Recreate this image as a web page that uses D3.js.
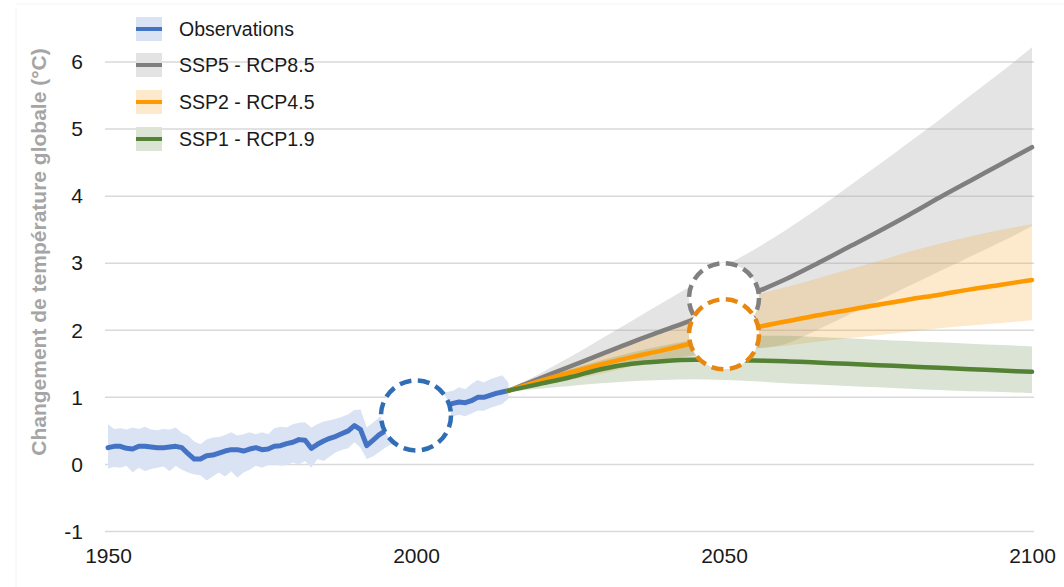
<!DOCTYPE html>
<html>
<head>
<meta charset="utf-8">
<script src="https://cdn.jsdelivr.net/npm/d3@7/dist/d3.min.js"></script>
<style>
  html, body { margin: 0; padding: 0; background: #ffffff; }
  svg { display: block; }
</style>
</head>
<body>
<svg id="chart" width="1064" height="587"></svg>
<script>
// ---- Observed global temperature change (°C), 1950–2015 ----
const obsYears = d3.range(1950, 2016);
const obsMean = [
  0.25, 0.27, 0.27, 0.24, 0.23, 0.27, 0.27, 0.26, 0.25, 0.25,
  0.26, 0.27, 0.25, 0.16, 0.08, 0.08, 0.13, 0.14, 0.17, 0.20,
  0.22, 0.22, 0.20, 0.23, 0.25, 0.22, 0.23, 0.27, 0.28, 0.31,
  0.33, 0.37, 0.36, 0.24, 0.30, 0.35, 0.39, 0.42, 0.46, 0.50,
  0.58, 0.52, 0.28, 0.36, 0.44, 0.50, 0.55, 0.60, 0.72, 0.62,
  0.64, 0.74, 0.80, 0.82, 0.80, 0.88, 0.91, 0.93, 0.92, 0.95,
  1.00, 1.00, 1.03, 1.06, 1.08, 1.10
];
const obsUpper = [
  0.60, 0.53, 0.54, 0.52, 0.55, 0.53, 0.56, 0.52, 0.51, 0.53,
  0.52, 0.55, 0.47, 0.43, 0.34, 0.30, 0.37, 0.40, 0.41, 0.44,
  0.48, 0.43, 0.45, 0.48, 0.45, 0.48, 0.45, 0.54, 0.56, 0.55,
  0.60, 0.62, 0.63, 0.55, 0.60, 0.64, 0.66, 0.68, 0.71, 0.75,
  0.81, 0.82, 0.55, 0.62, 0.70, 0.75, 0.80, 0.85, 0.98, 0.88,
  0.90, 0.98, 1.03, 1.05, 1.02, 1.08, 1.10, 1.15, 1.12, 1.20,
  1.26, 1.22, 1.27, 1.30, 1.33, 1.22
];
const obsLower = [
  -0.06, -0.04, -0.05, -0.02, -0.12, -0.05, -0.10, -0.07, -0.05, -0.03,
  -0.10, -0.02, -0.08, -0.12, -0.15, -0.16, -0.24, -0.18, -0.12, -0.18,
  -0.10, -0.20, -0.12, -0.08, -0.02, -0.05, -0.01, 0.00, -0.02, -0.01,
  0.03, 0.00, 0.05, -0.05, 0.08, 0.05, 0.12, 0.18, 0.22, 0.24,
  0.33, 0.25, 0.08, 0.12, 0.18, 0.25, 0.30, 0.36, 0.48, 0.38,
  0.40, 0.50, 0.56, 0.60, 0.58, 0.66, 0.72, 0.74, 0.72, 0.76,
  0.80, 0.80, 0.84, 0.87, 0.90, 0.98
];

// ---- Scenario projections, 2015–2100 (5-year steps) ----
const projYears = d3.range(2015, 2101, 5);
const ssp5Mean  = [1.10, 1.28, 1.46, 1.64, 1.82, 1.99, 2.16, 2.36, 2.56, 2.76, 2.99, 3.23, 3.47, 3.72, 3.98, 4.23, 4.48, 4.73];
const ssp5Upper = [1.12, 1.35, 1.60, 1.87, 2.14, 2.41, 2.68, 2.95, 3.21, 3.49, 3.80, 4.13, 4.46, 4.80, 5.14, 5.50, 5.85, 6.22];
const ssp5Lower = [1.08, 1.18, 1.28, 1.38, 1.47, 1.55, 1.62, 1.67, 1.72, 1.80, 2.00, 2.22, 2.44, 2.66, 2.88, 3.10, 3.32, 3.55];

const ssp2Mean  = [1.10, 1.24, 1.37, 1.49, 1.60, 1.70, 1.81, 1.93, 2.04, 2.13, 2.22, 2.30, 2.38, 2.46, 2.53, 2.61, 2.68, 2.75];
const ssp2Upper = [1.10, 1.30, 1.50, 1.68, 1.86, 2.03, 2.20, 2.37, 2.52, 2.64, 2.77, 2.90, 3.03, 3.17, 3.29, 3.40, 3.50, 3.58];
const ssp2Lower = [1.08, 1.17, 1.26, 1.35, 1.46, 1.56, 1.63, 1.69, 1.73, 1.77, 1.83, 1.88, 1.93, 1.98, 2.03, 2.07, 2.11, 2.15];

const ssp1Mean  = [1.10, 1.20, 1.30, 1.42, 1.50, 1.54, 1.56, 1.56, 1.55, 1.54, 1.52, 1.50, 1.48, 1.46, 1.44, 1.42, 1.40, 1.38];
const ssp1Upper = [1.10, 1.27, 1.42, 1.55, 1.67, 1.77, 1.85, 1.90, 1.92, 1.92, 1.90, 1.88, 1.86, 1.84, 1.82, 1.80, 1.78, 1.76];
const ssp1Lower = [1.08, 1.13, 1.17, 1.21, 1.24, 1.26, 1.27, 1.26, 1.24, 1.21, 1.19, 1.17, 1.15, 1.13, 1.11, 1.09, 1.08, 1.06];

// ---- Axis ticks and labels ----
const xTicks = [1950, 2000, 2050, 2100];
const yTicks = [-1, 0, 1, 2, 3, 4, 5, 6];
const yTitle = "Changement de température globale (°C)";

const legendLabels = ["Observations", "SSP5 - RCP8.5", "SSP2 - RCP4.5", "SSP1 - RCP1.9"];

// Highlighted points (year, °C) marked by dashed rings
const markerYears  = [2000, 2050, 2050];
const markerValues = [0.73, 2.48, 1.94];

// ---- Styling ----
const colors = {
  obs:  { line: "#4472c4", band: "#dae3f3" },
  ssp5: { line: "#7f7f7f", band: "#a6a6a6", bandOpacity: 0.30, swatch: "#e3e3e3" },
  ssp2: { line: "#ff9900", band: "#f7a733", bandOpacity: 0.25, swatch: "#fde9cc" },
  ssp1: { line: "#548235", band: "#6f9452", bandOpacity: 0.25, swatch: "#dce4d5" }
};
const markerColors = ["#2f6db5", "#808080", "#e8870f"];
const FONT = "Liberation Sans, Arial, sans-serif";

const svg = d3.select("#chart");
const W = 1064, H = 587;

const x = d3.scaleLinear().domain([1950, 2100]).range([108, 1032]);
const y = d3.scaleLinear().domain([-1, 6]).range([531.5, 62]);

// faint outer frame
svg.append("line").attr("x1", 16).attr("x2", 16).attr("y1", 8).attr("y2", H)
  .attr("stroke", "#f2f2f2").attr("stroke-width", 1);
svg.append("line").attr("x1", 16).attr("x2", W).attr("y1", 4).attr("y2", 4)
  .attr("stroke", "#f4f4f4").attr("stroke-width", 1);

// Horizontal gridlines
svg.append("g")
  .selectAll("line")
  .data(yTicks)
  .join("line")
  .attr("x1", 105).attr("x2", 1034)
  .attr("y1", d => y(d)).attr("y2", d => y(d))
  .attr("stroke", "#d9d9d9").attr("stroke-width", 1.5);

// Y axis (labels only)
const yAxis = d3.axisLeft(y).tickValues(yTicks).tickSize(0).tickPadding(0).tickFormat(d => String(d));
const gy = svg.append("g").attr("transform", "translate(83,0)").call(yAxis);
gy.select(".domain").remove();
gy.selectAll("text")
  .attr("font-family", FONT)
  .attr("font-size", 21).attr("fill", "#1a1a1a");

// X axis (labels only)
const xAxis = d3.axisBottom(x).tickValues(xTicks).tickSize(0).tickPadding(0).tickFormat(d => String(d));
const gx = svg.append("g").attr("transform", "translate(0,548)").call(xAxis);
gx.select(".domain").remove();
gx.selectAll("text")
  .attr("font-family", FONT)
  .attr("font-size", 21).attr("fill", "#1a1a1a");

// Y axis title
svg.append("text")
  .attr("transform", "translate(46,252) rotate(-90)")
  .attr("text-anchor", "middle")
  .attr("font-family", FONT)
  .attr("font-weight", "bold")
  .attr("font-size", 21)
  .attr("fill", "#a5a5a5")
  .text(yTitle);

// ---- Observations ----
const obsData = obsYears.map((yr, i) => ({ yr, m: obsMean[i], hi: obsUpper[i], lo: obsLower[i] }));
svg.append("path")
  .datum(obsData)
  .attr("d", d3.area().x(d => x(d.yr)).y0(d => y(d.lo)).y1(d => y(d.hi)))
  .attr("fill", colors.obs.band);

// ---- Projection bands ----
function series(mean, hi, lo) {
  return projYears.map((yr, i) => ({ yr, m: mean[i], hi: hi[i], lo: lo[i] }));
}
const scen = [
  { key: "ssp5", data: series(ssp5Mean, ssp5Upper, ssp5Lower) },
  { key: "ssp2", data: series(ssp2Mean, ssp2Upper, ssp2Lower) },
  { key: "ssp1", data: series(ssp1Mean, ssp1Upper, ssp1Lower) }
];
const bandGen = d3.area().curve(d3.curveMonotoneX)
  .x(d => x(d.yr)).y0(d => y(d.lo)).y1(d => y(d.hi));
const lineGen = d3.line().curve(d3.curveMonotoneX)
  .x(d => x(d.yr)).y(d => y(d.m));

scen.forEach(s => {
  svg.append("path").datum(s.data)
    .attr("d", bandGen)
    .attr("fill", colors[s.key].band)
    .attr("fill-opacity", colors[s.key].bandOpacity);
});

// Observed mean line
svg.append("path")
  .datum(obsData)
  .attr("d", d3.line().x(d => x(d.yr)).y(d => y(d.m)))
  .attr("fill", "none")
  .attr("stroke", colors.obs.line)
  .attr("stroke-width", 5)
  .attr("stroke-linejoin", "round")
  .attr("stroke-linecap", "round");

// Projection mean lines
scen.forEach(s => {
  svg.append("path").datum(s.data)
    .attr("d", lineGen)
    .attr("fill", "none")
    .attr("stroke", colors[s.key].line)
    .attr("stroke-width", 4.5)
    .attr("stroke-linecap", "round");
});

// ---- Dashed ring markers ----
svg.append("g")
  .selectAll("circle")
  .data(markerYears.map((yr, i) => ({ yr, v: markerValues[i], c: markerColors[i] })))
  .join("circle")
  .attr("cx", d => x(d.yr))
  .attr("cy", d => y(d.v))
  .attr("r", 35)
  .attr("fill", "#ffffff")
  .attr("stroke", d => d.c)
  .attr("stroke-width", 4.5)
  .attr("stroke-dasharray", "12 6.5");

// ---- Legend ----
const legendKeys = ["obs", "ssp5", "ssp2", "ssp1"];
const legendY = [29, 65, 102, 139];
const lg = svg.append("g");
legendKeys.forEach((k, i) => {
  const cy = legendY[i];
  lg.append("rect")
    .attr("x", 136).attr("y", cy - 12).attr("width", 26).attr("height", 24)
    .attr("fill", k === "obs" ? colors.obs.band : colors[k].swatch);
  lg.append("line")
    .attr("x1", 136).attr("x2", 162).attr("y1", cy).attr("y2", cy)
    .attr("stroke", colors[k].line).attr("stroke-width", 4);
  lg.append("text")
    .attr("x", 179).attr("y", cy)
    .attr("dy", "0.35em")
    .attr("font-family", FONT)
    .attr("font-size", 19.5)
    .attr("fill", "#1a1a1a")
    .text(legendLabels[i]);
});
</script>
</body>
</html>
